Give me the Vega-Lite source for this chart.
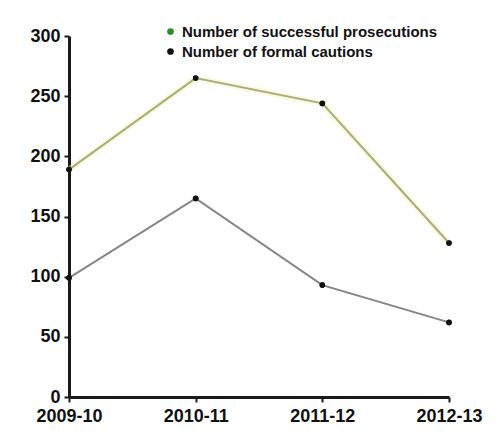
{
  "$schema": "https://vega.github.io/schema/vega-lite/v6.json",
  "autosize": {"type": "none"},
  "padding": {"left": 69, "top": 36, "right": 48, "bottom": 34},
  "width": 380,
  "height": 361,
  "background": "#ffffff",
  "config": {
    "view": {"stroke": null},
    "font": "Liberation Sans",
    "axis": {"grid": false, "domainColor": "#1a1a1a", "domainWidth": 3, "tickColor": "#1a1a1a", "tickWidth": 2, "tickSize": 5, "labelFont": "Liberation Sans", "labelFontWeight": "bold", "labelFontSize": 18, "labelColor": "#111111", "title": null}
  },
  "data": {
    "values": [
      {"year": "2009-10", "series": "Number of successful prosecutions", "value": 189},
      {"year": "2010-11", "series": "Number of successful prosecutions", "value": 265},
      {"year": "2011-12", "series": "Number of successful prosecutions", "value": 244},
      {"year": "2012-13", "series": "Number of successful prosecutions", "value": 128},
      {"year": "2009-10", "series": "Number of formal cautions", "value": 99},
      {"year": "2010-11", "series": "Number of formal cautions", "value": 165},
      {"year": "2011-12", "series": "Number of formal cautions", "value": 93},
      {"year": "2012-13", "series": "Number of formal cautions", "value": 62}
    ]
  },
  "encoding": {
    "x": {"field": "year", "type": "ordinal", "scale": {"type": "point", "padding": 0}, "axis": {"labelAngle": 0, "labelPadding": 5}},
    "y": {"field": "value", "type": "quantitative", "scale": {"domain": [0, 300], "nice": false}, "axis": {"values": [0, 50, 100, 150, 200, 250, 300], "labelPadding": 4}}
  },
  "layer": [
    {
      "transform": [{"filter": "datum.series == 'Number of successful prosecutions'"}],
      "mark": {"type": "line", "color": "#f4f4b8", "strokeWidth": 6, "opacity": 0.5},
      "encoding": {}
    },
    {
      "mark": {"type": "line", "strokeWidth": 2},
      "encoding": {
        "stroke": {"field": "series", "type": "nominal", "scale": {"domain": ["Number of successful prosecutions", "Number of formal cautions"], "range": ["#a9ad80", "#858585"]}, "legend": null}
      }
    },
    {
      "mark": {"type": "point", "filled": true, "size": 30, "opacity": 1},
      "encoding": {
        "color": {"field": "series", "type": "nominal", "scale": {"domain": ["Number of successful prosecutions", "Number of formal cautions"], "range": ["#2e8b2e", "#111111"]},
          "legend": {"title": null, "orient": "none", "legendX": 94, "legendY": -12, "padding": 0, "symbolType": "circle", "symbolSize": 45, "labelFontSize": 15, "labelFontWeight": "bold", "labelColor": "#111111", "labelOffset": 4, "labelLimit": 0, "rowPadding": 4}}
      }
    },
    {
      "mark": {"type": "point", "filled": true, "size": 32, "color": "#111111", "opacity": 1},
      "encoding": {}
    }
  ],
  "resolve": {"scale": {"color": "independent", "stroke": "independent"}}
}
